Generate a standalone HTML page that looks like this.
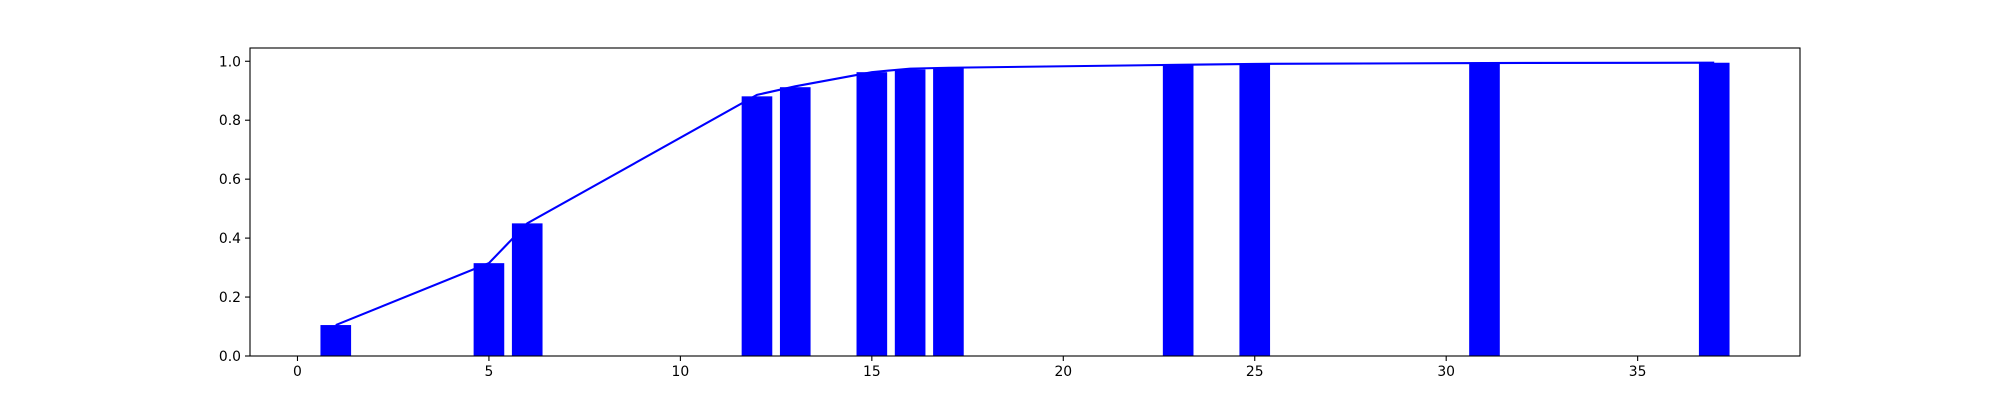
<!DOCTYPE html>
<html><head><meta charset="utf-8"><style>
html,body{margin:0;padding:0;background:#fff;}
svg text{font-family:"DejaVu Sans","Liberation Sans",sans-serif;font-size:13.9px;fill:#000;}
</style></head><body>
<svg id="chart" width="2000" height="400" xmlns="http://www.w3.org/2000/svg">
<rect width="2000" height="400" fill="#fff"/>
<g id="marks"></g>
<g id="axes"></g>
</svg>
<script>
const categories = [1, 5, 6, 12, 13, 15, 16, 17, 23, 25, 31, 37];
const barValues = [0.105, 0.315, 0.45, 0.881, 0.912, 0.963, 0.972, 0.976, 0.988, 0.991, 0.994, 0.995];
const lineValues = [0.105, 0.315, 0.45, 0.886, 0.915, 0.963, 0.975, 0.978, 0.988, 0.991, 0.994, 0.995];
const xTicks = [0, 5, 10, 15, 20, 25, 30, 35];
const yTicks = [0.0, 0.2, 0.4, 0.6, 0.8, 1.0];

const L = 250, R = 1800, T = 48, B = 356;
const xMin = -1.24, xMax = 39.24, yMin = 0, yMax = 1.045;
const sx = v => L + (v - xMin) / (xMax - xMin) * (R - L);
const sy = v => B - (v - yMin) / (yMax - yMin) * (B - T);
const NS = "http://www.w3.org/2000/svg";
const marks = document.getElementById('marks');
const axes = document.getElementById('axes');
function mk(tag, attrs, parent) {
  const e = document.createElementNS(NS, tag);
  for (const k in attrs) e.setAttribute(k, attrs[k]);
  parent.appendChild(e);
  return e;
}
categories.forEach((c, i) => {
  const r = mk('rect', {x: sx(c - 0.4), y: sy(barValues[i]), width: sx(c + 0.4) - sx(c - 0.4), height: sy(0) - sy(barValues[i]), fill: '#0000ff'}, marks);
  
  
});
const pl = mk('polyline', {points: categories.map((c, i) => sx(c) + ',' + sy(lineValues[i])).join(' '), fill: 'none', stroke: '#0000ff', 'stroke-width': 2.1}, marks);



const frame = mk('rect', {x: L, y: T, width: R - L, height: B - T, fill: 'none', stroke: '#000', 'stroke-width': 1.1}, axes);


xTicks.forEach(t => {
  const x = sx(t);
  const tk = mk('line', {x1: x, x2: x, y1: B, y2: B + 5, stroke: '#000', 'stroke-width': 1.1}, axes);
  
  
  const tx = mk('text', {x: x, y: B + 20, 'text-anchor': 'middle'}, axes);
  tx.textContent = String(t);
  
  
});
yTicks.forEach(t => {
  const y = sy(t);
  const tk = mk('line', {x1: L - 5, x2: L, y1: y, y2: y, stroke: '#000', 'stroke-width': 1.1}, axes);
  
  
  const tx = mk('text', {x: L - 9, y: y + 5, 'text-anchor': 'end'}, axes);
  tx.textContent = t.toFixed(1);
  
  
});
</script>
</body></html>
